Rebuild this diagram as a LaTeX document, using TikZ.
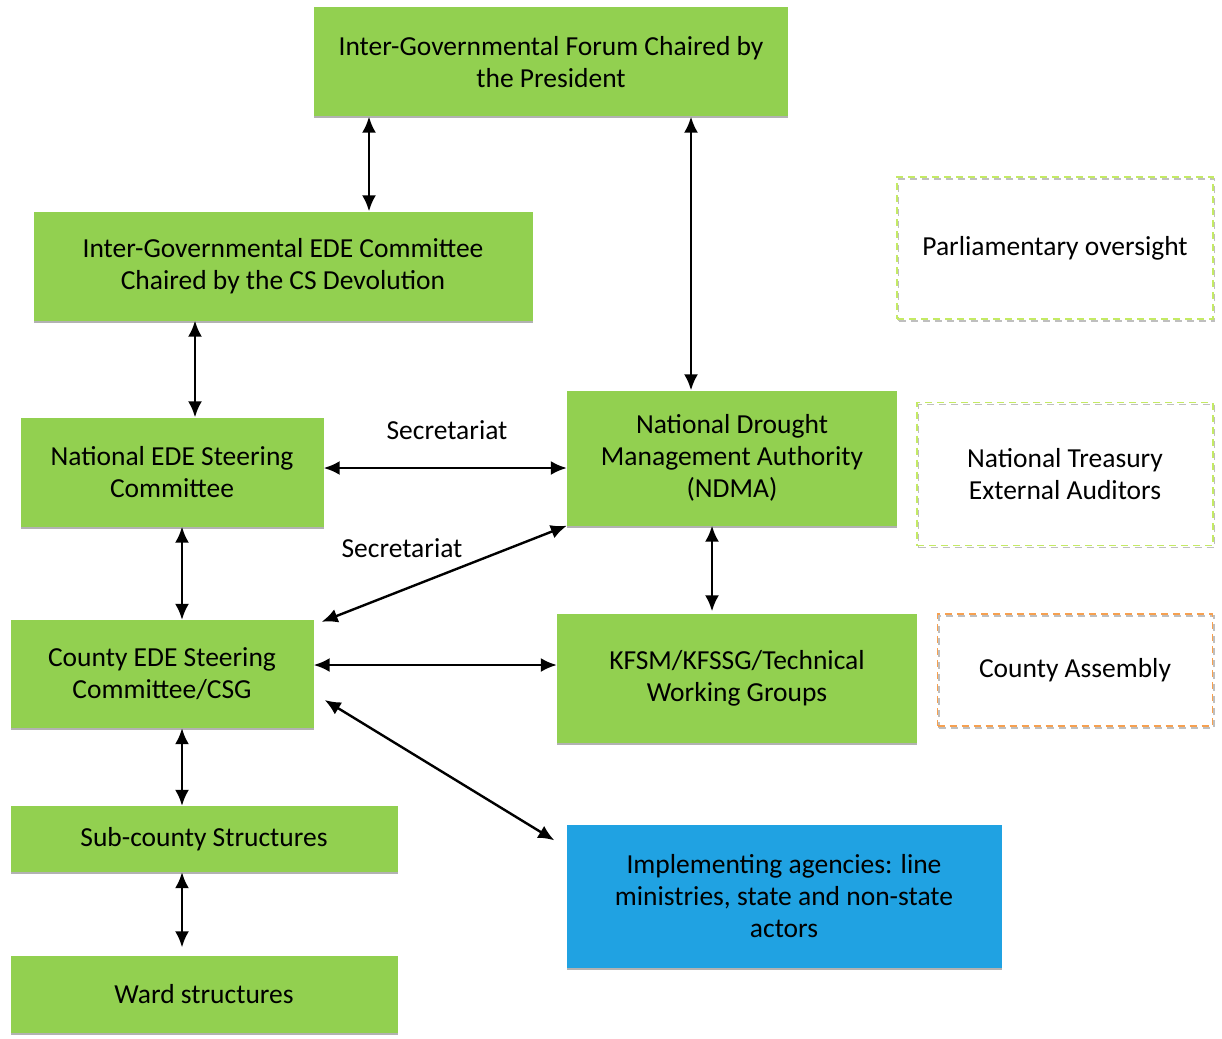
\documentclass[tikz,border=0pt]{standalone}
\usepackage{fontspec}
\setmainfont{Carlito}
\usetikzlibrary{arrows.meta,shadows}
\definecolor{boxgreen}{RGB}{146,208,80}
\definecolor{boxblue}{RGB}{32,162,226}
\definecolor{dashgreen}{RGB}{196,234,100}
\definecolor{dashorange}{RGB}{246,160,80}
\tikzset{
  greenbox/.style={rectangle,fill=boxgreen,align=center,inner sep=0pt,
    font=\fontsize{27.5}{32}\selectfont,
    drop shadow={shadow xshift=0pt,shadow yshift=-2pt,fill=black!30,opacity=1}},
  bluebox/.style={greenbox,fill=boxblue},
  dashbox/.style={rectangle,draw=#1,line width=1.6pt,dash pattern=on 7pt off 5pt,
    align=center,inner sep=0pt,font=\fontsize{27.5}{32}\selectfont,
    preaction={draw=black!25,line width=1.2pt,dash pattern=on 7pt off 5pt,
      transform canvas={xshift=1.5pt,yshift=-2pt}}},
  link/.style={{Latex[length=16pt,width=14pt]}-{Latex[length=16pt,width=14pt]},line width=2.4pt},
  label/.style={font=\fontsize{27.5}{32}\selectfont,inner sep=0pt}
}
\begin{document}
\begin{tikzpicture}[x=1pt,y=-1pt]
    \useasboundingbox (0,0) rectangle (1222,1038);
    % boxes
    \node[greenbox,minimum width=474pt,minimum height=109pt] (forum) at (551,62) {Inter-Governmental Forum Chaired by\\the President};
    \node[greenbox,minimum width=499pt,minimum height=109pt] (igede) at (283,266) {Inter-Governmental EDE Committee\\Chaired by the CS Devolution};
    \node[greenbox,minimum width=303pt,minimum height=109pt] (natede) at (172,472) {National EDE Steering\\Committee};
    \node[greenbox,minimum width=330pt,minimum height=135pt] (ndma) at (732,458) {National Drought\\Management Authority\\(NDMA)};
    \node[greenbox,minimum width=303pt,minimum height=108pt] (county) at (162,674) {County EDE Steering\\Committee/CSG};
    \node[greenbox,minimum width=360pt,minimum height=129pt] (kfsm) at (737,678) {KFSM/KFSSG/Technical\\Working Groups};
    \node[greenbox,minimum width=387pt,minimum height=66pt] (sub) at (204,839) {Sub-county Structures};
    \node[greenbox,minimum width=387pt,minimum height=77pt] (ward) at (204,994) {Ward structures};
    \node[bluebox,minimum width=435pt,minimum height=143pt] (impl) at (784,896) {Implementing agencies: line\\ministries, state and non-state\\actors};
    % oversight
    \node[dashbox=dashgreen,minimum width=316pt,minimum height=142pt] (parl) at (1055,248) {Parliamentary oversight};
    \node[dashbox=dashgreen,minimum width=296pt,minimum height=143pt] (treas) at (1065,474) {National Treasury\\External Auditors};
    \node[dashbox=dashorange,minimum width=275pt,minimum height=112pt] (assembly) at (1075,670) {County Assembly};
    % labels
    \node[label] (sec1) at (447,430) {Secretariat};
    \node[label] (sec2) at (402,548) {Secretariat};
    % links
    \draw[link] ([xshift=-182pt]forum.south) -- ([xshift=86pt]igede.north);
    \draw[link] ([xshift=140pt]forum.south) -- ([xshift=-41pt]ndma.north);
    \draw[link] ([xshift=-88pt]igede.south) -- ([xshift=23pt]natede.north);
    \draw[link] ([yshift=4pt]natede.east) -- ([yshift=-10pt]ndma.west);
    \draw[link] ([xshift=10pt]natede.south) -- ([xshift=20pt]county.north);
    \draw[link] (ndma.south west) -- ([xshift=8pt,yshift=-2pt]county.north east);
    \draw[link] ([xshift=-20pt]ndma.south) -- ([xshift=-25pt,yshift=2pt]kfsm.north);
    \draw[link] ([yshift=9pt]county.east) -- ([yshift=13pt]kfsm.west);
    \draw[link] ([xshift=11pt,yshift=-26pt]county.east) -- ([xshift=-12pt,yshift=-16pt]impl.north west);
    \draw[link] ([xshift=20pt]county.south) -- ([xshift=-22pt]sub.north);
    \draw[link] ([xshift=-22pt]sub.south) -- ([xshift=-22pt,yshift=8pt]ward.north);
\end{tikzpicture}
\end{document}
